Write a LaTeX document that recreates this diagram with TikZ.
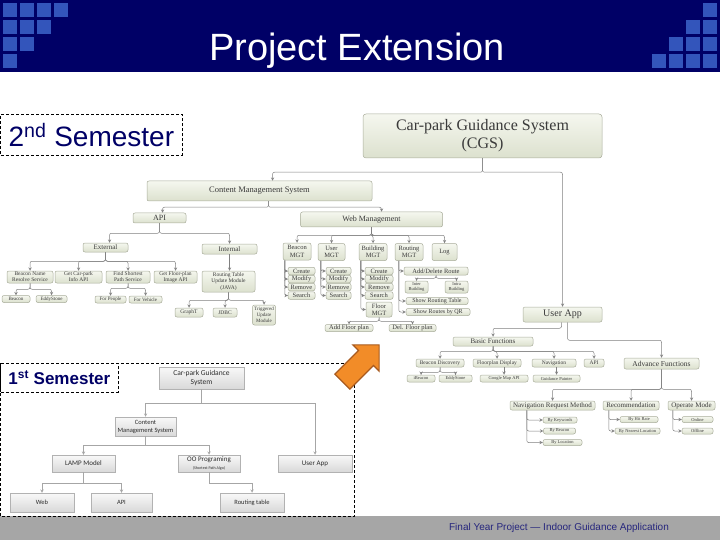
\documentclass[tikz,border=0pt]{standalone}
\usepackage{fontspec}
\setmainfont{Liberation Sans}
\newfontfamily\boxfont{Liberation Serif}
\newfontfamily\oldfont{Carlito}
\usetikzlibrary{shapes, arrows, shadows}

\definecolor{navy}{HTML}{000066}
\definecolor{tile}{HTML}{3355BB}
\definecolor{boxtop}{HTML}{F5F7EF}
\definecolor{boxbot}{HTML}{DCE1CE}
\definecolor{boxline}{HTML}{A8AC9A}
\definecolor{boxtext}{HTML}{3A3A3A}
\definecolor{linkgray}{HTML}{808080}
\definecolor{footgray}{HTML}{A6A6A6}
\definecolor{arrowfill}{HTML}{F28C28}
\definecolor{arrowline}{HTML}{A85A1E}

\newcommand{\fsz}[2]{\fontsize{#1}{#2}\selectfont}
\newcommand{\bx}[2]{\boxfont\fontsize{#1}{#2}\selectfont}
\newcommand{\ol}[2]{\oldfont\fontsize{#1}{#2}\selectfont}

\tikzstyle{mgt} = [rectangle, rounded corners=2pt, draw=boxline, line width=0.5pt, top color=boxtop, bottom color=boxbot, text=boxtext, align=center, inner sep=0pt, font=\bx{6}{7}]
\tikzstyle{old} = [rectangle, draw=gray!60, line width=0.5pt, top color=gray!5, bottom color=gray!30, text=gray!35!black, align=center, inner sep=0pt, drop shadow={shadow xshift=1pt, shadow yshift=-1pt, fill=gray!50, opacity=.6}, font=\ol{7}{8.5}]
\tikzstyle{semtag} = [rectangle, draw=black, fill=white, dash pattern=on 3pt off 2pt, line width=0.7pt, text=navy, inner sep=0pt]
\tikzstyle{edge} = [->, >=stealth, draw=linkgray, line width=0.5pt, rounded corners=2pt]
\tikzstyle{oldedge} = [->, >=stealth, draw=gray!70, line width=0.5pt]

\begin{document}
\begin{tikzpicture}[x=1pt, y=-1pt]
\useasboundingbox (0,0) rectangle (720,540);

% banner
\fill[navy] (0,0) rectangle (720,72);
\foreach \r in {0,...,3} {
  \pgfmathtruncatemacro{\n}{4-\r}
  \foreach \c in {1,...,\n}
    \fill[tile] ({3+17*(\c-1)},{3+17*\r}) rectangle ++(14,14);
  \pgfmathtruncatemacro{\m}{\r+1}
  \foreach \c in {1,...,\m}
    \fill[tile] ({703-17*(\c-1)},{3+17*\r}) rectangle ++(14,14);
}
\node (title) [anchor=base, text=white, font=\fsz{38}{40}] at (357,61) {Project Extension};

% footer
\fill[footgray] (0,516) rectangle (720,540);
\node (foot) [text=navy!85, font=\fsz{10}{12}] at (559,527.5) {Final Year Project — Indoor Guidance Application};

% semester tags
\node (sem2) [semtag, anchor=north west, minimum width=181, minimum height=41, font=\fsz{28}{30}] at (0.5,114) {2\textsuperscript{nd} Semester};
\draw [dash pattern=on 3pt off 2pt, line width=0.7pt] (0.5,363) rectangle (354,516);
\node (sem1) [semtag, anchor=north west, minimum width=117, minimum height=29, font=\bfseries\fsz{17}{19}] at (0.5,363) {1\textsuperscript{st} Semester};

% arrow from 1st to 2nd semester
\node (shift) [single arrow, rotate=45, fill=arrowfill, draw=arrowline, line width=1.2pt, minimum height=52, inner xsep=0pt, inner ysep=10pt, single arrow head extend=8pt] at (357,367) {};

% 2nd semester: top
\node (cgs) [mgt, rounded corners=3pt, minimum width=239, minimum height=44, font=\bx{16}{18}] at (482.5,136) {Car-park Guidance System\\(CGS)};
\node (cms) [mgt, minimum width=225, minimum height=20, font=\bx{8.5}{10}] at (259.5,191) {Content Management System};
\node (api) [mgt, minimum width=53, minimum height=10, font=\bx{8}{9}] at (159.5,218) {API};
\node (web) [mgt, minimum width=142, minimum height=15, font=\bx{8}{9}] at (371.5,219.5) {Web Management};

% API side
\node (ext) [mgt, minimum width=45, minimum height=9, font=\bx{7}{8}] at (105.5,247.5) {External};
\node (int) [mgt, minimum width=55, minimum height=10, font=\bx{7}{8}] at (229.5,249) {Internal};
\node (bnrs) [mgt, minimum width=46, minimum height=12, font=\bx{5.5}{6}] at (30,277) {Beacon Name\\Resolve Service};
\node (gcp) [mgt, minimum width=47, minimum height=12, font=\bx{5.5}{6}] at (78.5,277) {Get Car-park\\Info API};
\node (fsp) [mgt, minimum width=44, minimum height=12, font=\bx{5.5}{6}] at (128,277) {Find Shortest\\Path Service};
\node (gfp) [mgt, minimum width=43, minimum height=12, font=\bx{5.5}{6}] at (175.5,277) {Get Floor-plan\\Image API};
\node (beacon) [mgt, minimum width=28, minimum height=7, font=\bx{5}{6}] at (16,299) {Beacon};
\node (eddy) [mgt, minimum width=31, minimum height=7, font=\bx{5}{6}] at (51.5,299) {EddyStone};
\node (people) [mgt, minimum width=31, minimum height=7, font=\bx{5}{6}] at (110.5,299.5) {For People};
\node (vehicle) [mgt, minimum width=33, minimum height=7, font=\bx{5}{6}] at (145.5,299.5) {For Vehicle};
\node (rtum) [mgt, minimum width=53, minimum height=21, font=\bx{5.5}{6.3}] at (228.5,281.5) {Routing Table\\Update Module\\(JAVA)};
\node (graph) [mgt, minimum width=28, minimum height=9, font=\bx{5.5}{6}] at (189,312.5) {GraphT};
\node (jdbc) [mgt, minimum width=24, minimum height=9, font=\bx{5.5}{6}] at (225,312.5) {JDBC};
\node (tum) [mgt, minimum width=23, minimum height=20, font=\bx{5}{6}] at (264,315) {Triggered\\Update\\Module};

% web management side
\node (bmgt) [mgt, minimum width=28, minimum height=17, font=\bx{6.5}{7.5}] at (297,251.5) {Beacon\\MGT};
\node (umgt) [mgt, minimum width=27, minimum height=17, font=\bx{6.5}{7.5}] at (331.5,252) {User\\MGT};
\node (bdmgt) [mgt, minimum width=28, minimum height=17, font=\bx{6.5}{7.5}] at (373,252) {Building\\MGT};
\node (rmgt) [mgt, minimum width=28, minimum height=17, font=\bx{6.5}{7.5}] at (409,252) {Routing\\MGT};
\node (log) [mgt, minimum width=25, minimum height=17, font=\bx{6.5}{7.5}] at (444.5,252) {Log};

\node (bcreate) [mgt, minimum width=27, minimum height=7.5, font=\bx{6.5}{7}] at (301.5,271) {Create};
\node (bmodify) [mgt, minimum width=27, minimum height=7.5, font=\bx{6.5}{7}] at (301.5,279) {Modify};
\node (bremove) [mgt, minimum width=27, minimum height=7.5, font=\bx{6.5}{7}] at (301.5,287) {Remove};
\node (bsearch) [mgt, minimum width=27, minimum height=7.5, font=\bx{6.5}{7}] at (301.5,295.5) {Search};
\node (ucreate) [mgt, minimum width=25, minimum height=7.5, font=\bx{6.5}{7}] at (338.5,271) {Create};
\node (umodify) [mgt, minimum width=25, minimum height=7.5, font=\bx{6.5}{7}] at (338.5,279) {Modify};
\node (uremove) [mgt, minimum width=25, minimum height=7.5, font=\bx{6.5}{7}] at (338.5,287) {Remove};
\node (usearch) [mgt, minimum width=25, minimum height=7.5, font=\bx{6.5}{7}] at (338.5,295.5) {Search};
\node (dcreate) [mgt, minimum width=28, minimum height=7.5, font=\bx{6.5}{7}] at (379,271) {Create};
\node (dmodify) [mgt, minimum width=28, minimum height=7.5, font=\bx{6.5}{7}] at (379,279) {Modify};
\node (dremove) [mgt, minimum width=28, minimum height=7.5, font=\bx{6.5}{7}] at (379,287) {Remove};
\node (dsearch) [mgt, minimum width=28, minimum height=7.5, font=\bx{6.5}{7}] at (379,295.5) {Search};
\node (floor) [mgt, minimum width=26, minimum height=15, font=\bx{6.5}{7}] at (379,309.5) {Floor\\MGT};
\node (addfp) [mgt, minimum width=48, minimum height=7, font=\bx{6.5}{7}] at (349,328) {Add Floor plan};
\node (delfp) [mgt, minimum width=47, minimum height=7, font=\bx{6.5}{7}] at (412.5,328) {Del. Floor plan};

\node (adddel) [mgt, minimum width=64, minimum height=8, font=\bx{6.5}{7}] at (436,271) {Add/Delete Route};
\node (inter) [mgt, minimum width=23, minimum height=12, font=\bx{4.5}{5}] at (416.5,287) {Inter\\Building};
\node (intra) [mgt, minimum width=23, minimum height=12, font=\bx{4.5}{5}] at (456.5,287) {Intra\\Building};
\node (showrt) [mgt, minimum width=62, minimum height=7, font=\bx{6}{7}] at (437,301) {Show Routing Table};
\node (showqr) [mgt, minimum width=64, minimum height=7, font=\bx{6}{7}] at (438,312) {Show Routes by QR};

% user app side
\node (userapp) [mgt, minimum width=79, minimum height=15, font=\bx{10}{11}] at (562.5,314.5) {User App};
\node (basic) [mgt, minimum width=80, minimum height=9, font=\bx{7}{8}] at (493,341.5) {Basic Functions};
\node (bdisc) [mgt, minimum width=48, minimum height=8, font=\bx{5.5}{6}] at (440,363) {Beacon Discovery};
\node (fpd) [mgt, minimum width=48, minimum height=8, font=\bx{5.5}{6}] at (497,363) {Floorplan Display};
\node (nav) [mgt, minimum width=44, minimum height=8, font=\bx{5.5}{6}] at (554,363) {Navigation};
\node (bapi) [mgt, minimum width=20, minimum height=8, font=\bx{5.5}{6}] at (594,363) {API};
\node (ibeacon) [mgt, minimum width=28, minimum height=7, font=\bx{4.5}{5}] at (421,378.5) {iBeacon};
\node (eddy2) [mgt, minimum width=33, minimum height=7, font=\bx{4.5}{5}] at (455.5,378.5) {EddyStone};
\node (gmap) [mgt, minimum width=48, minimum height=7, font=\bx{4.5}{5}] at (504,378.5) {Google Map API};
\node (gpaint) [mgt, minimum width=47, minimum height=7, font=\bx{4.5}{5}] at (556.5,378.5) {Guidance Painter};
\node (adv) [mgt, minimum width=75, minimum height=11, font=\bx{7.5}{8}] at (661.5,363.5) {Advance Functions};
\node (nrm) [mgt, minimum width=85, minimum height=9, font=\bx{7}{8}] at (552.5,405.5) {Navigation Request Method};
\node (rec) [mgt, minimum width=56, minimum height=9, font=\bx{7}{8}] at (631,405.5) {Recommendation};
\node (opm) [mgt, minimum width=47, minimum height=9, font=\bx{7}{8}] at (691.5,405.5) {Operate Mode};
\node (bykey) [mgt, minimum width=34, minimum height=6, font=\bx{4.5}{5}] at (560,420) {By Keywords};
\node (bybeacon) [mgt, minimum width=32, minimum height=6, font=\bx{4.5}{5}] at (559.5,431) {By Beacon};
\node (byloc) [mgt, minimum width=39, minimum height=6, font=\bx{4.5}{5}] at (562.5,442.5) {By Location};
\node (byhit) [mgt, minimum width=38, minimum height=6, font=\bx{4.5}{5}] at (639,419.5) {By Hit Rate};
\node (bynear) [mgt, minimum width=45, minimum height=6, font=\bx{4.5}{5}] at (637.5,431) {By Nearest Location};
\node (online) [mgt, minimum width=31, minimum height=6, font=\bx{4.5}{5}] at (697.5,419.5) {Online};
\node (offline) [mgt, minimum width=31, minimum height=6, font=\bx{4.5}{5}] at (697.5,431) {Offline};

% 2nd semester connectors
\draw [edge] (cgs.south) -- ++(0,14) -| ([xshift=13pt]cms.north);
\draw [edge] (cgs.south) -- ++(0,14) -| (userapp.north);
\draw [edge] ([xshift=9pt]cms.south) -- ++(0,6) -| ([xshift=3pt]api.north);
\draw [edge] ([xshift=9pt]cms.south) -- ++(0,6) -| ([xshift=10pt]web.north);
\draw [edge] (api.south) -- ++(0,10) -| ([xshift=4pt]ext.north);
\draw [edge] (api.south) -- ++(0,10) -| (int.north);
\foreach \k in {bnrs, gcp, fsp, gfp}
  \draw [edge] (ext.south) -- ++(0,9) -| (\k.north);
\foreach \k in {beacon, eddy}
  \draw [edge] (bnrs.south) -- ++(0,6) -| (\k.north);
\foreach \k in {people, vehicle}
  \draw [edge] (fsp.south) -- ++(0,5) -| (\k.north);
\draw [edge] (int.south) -- (int.south |- rtum.north);
\foreach \k in {graph, jdbc, tum}
  \draw [edge] (rtum.south) -- ++(0,8) -| (\k.north);

\foreach \k in {bmgt, umgt, bdmgt, rmgt, log}
  \draw [edge] (web.south) -- ++(0,8) -| (\k.north);
\foreach \k in {bcreate, bmodify, bremove, bsearch}
  \draw [edge] ([xshift=2pt]bmgt.south west) |- (\k.west);
\foreach \k in {ucreate, umodify, uremove, usearch}
  \draw [edge] ([xshift=3pt]umgt.south west) |- (\k.west);
\foreach \k in {dcreate, dmodify, dremove, dsearch, floor}
  \draw [edge] ([xshift=2pt]bdmgt.south west) |- (\k.west);
\foreach \k in {addfp, delfp}
  \draw [edge] (floor.south) -- ++(0,4) -| (\k.north);
\foreach \k in {adddel, showrt, showqr}
  \draw [edge] ([xshift=4pt]rmgt.south west) |- (\k.west);
\foreach \k in {inter, intra}
  \draw [edge] (adddel.south) -- ++(0,3) -| (\k.north);

\draw [edge] ([xshift=-1pt]userapp.south) -- ++(0,6) -| (basic.north);
\draw [edge] ([xshift=5pt]userapp.south) -- ++(0,18) -| (adv.north);
\foreach \k in {bdisc, fpd, nav, bapi}
  \draw [edge] (basic.south) -- ++(0,5) -| (\k.north);
\foreach \k in {ibeacon, eddy2}
  \draw [edge] (bdisc.south) -- ++(0,5) -| (\k.north);
\draw [edge] (gmap.north |- fpd.south) -- (gmap.north);
\draw [edge] (gpaint.north |- nav.south) -- (gpaint.north);
\foreach \k in {nrm, rec, opm}
  \draw [edge] (adv.south) -- ++(0,20) -| (\k.north);
\foreach \k in {bykey, bybeacon, byloc}
  \draw [edge] ([xshift=17pt]nrm.south west) |- (\k.west);
\foreach \k in {byhit, bynear}
  \draw [edge] ([xshift=6pt]rec.south west) |- (\k.west);
\foreach \k in {online, offline}
  \draw [edge] ([xshift=5pt]opm.south west) |- (\k.west);

% 1st semester tree
\node (cgs1) [old, minimum width=85, minimum height=22, font=\ol{7.5}{9}] at (201.5,378) {Car-park Guidance\\System};
\node (cms1) [old, minimum width=61, minimum height=19, font=\ol{6.5}{8}] at (145.5,426.5) {Content\\Management System};
\node (lamp) [old, minimum width=63, minimum height=17] at (83.5,463.5) {LAMP Model};
\node (oo) [old, minimum width=62, minimum height=17] at (209,463.5) {OO Programing\\{\ol{4}{5}(Shortest Path Algo)}};
\node (ua1) [old, minimum width=74, minimum height=17] at (315,463.5) {User App};
\node (web1) [old, minimum width=64, minimum height=19, font=\ol{6.5}{8}] at (42,502.5) {Web};
\node (api1) [old, minimum width=61, minimum height=19, font=\ol{6.5}{8}] at (121.5,502.5) {API};
\node (rt1) [old, minimum width=64, minimum height=19, font=\ol{6.5}{8}] at (252,502.5) {Routing table};

\draw [oldedge] (cgs1.south) -- ++(0,14) -| (cms1.north);
\draw [oldedge] (cgs1.south) -- ++(0,14) -| (ua1.north);
\draw [oldedge] (cms1.south) -- ++(0,9) -| (lamp.north);
\draw [oldedge] (cms1.south) -- ++(0,9) -| (oo.north);
\draw [oldedge] (lamp.south) -- ++(0,11) -| (web1.north);
\draw [oldedge] (lamp.south) -- ++(0,11) -| (api1.north);
\draw [oldedge] (oo.south) -- ++(0,11) -| (rt1.north);

\end{tikzpicture}
\end{document}
